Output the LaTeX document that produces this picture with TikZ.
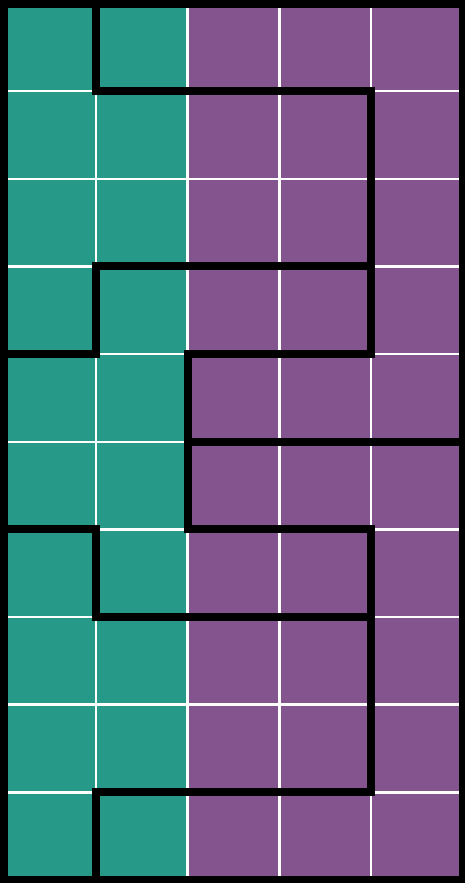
\documentclass[tikz,border=0pt]{standalone}
\usepackage{xcolor}
\usepackage{tikz}

\definecolor{gridteal}{RGB}{38,153,136}
\definecolor{gridpurple}{RGB}{132,84,143}

\begin{document}
\begin{tikzpicture}[x=0.918cm, y=-0.8765cm,
  cellline/.style={white, line width=0.7pt},
  wall/.style={black, line width=2.3pt, line cap=rect, line join=miter}]

\useasboundingbox (-0.0436,-0.04) rectangle (5.011,10.034);

% coloured halves
\fill[gridteal] (0,0) rectangle (2,10);
\fill[gridpurple] (2,0) rectangle (5,10);

% white cell grid
\foreach \x in {1,...,4}
  \draw[cellline] (\x,0) -- (\x,10);
\foreach \y in {1,...,9}
  \draw[cellline] (0,\y) -- (5,\y);

% black walls
\coordinate (topgap) at (1,0);
\coordinate (botgap) at (1,10);
\draw[wall] (topgap) -- (1,1) -- (4,1) -- (4,4) -- (2,4) -- (2,6) -- (4,6) -- (4,9) -- (1,9) -- (botgap);
\draw[wall] (4,3) -- (1,3) -- (1,4) -- (0,4);
\draw[wall] (5,5) -- (2,5);
\draw[wall] (0,6) -- (1,6) -- (1,7) -- (4,7);
\draw[wall] (0,0) rectangle (5,10);

\end{tikzpicture}
\end{document}
